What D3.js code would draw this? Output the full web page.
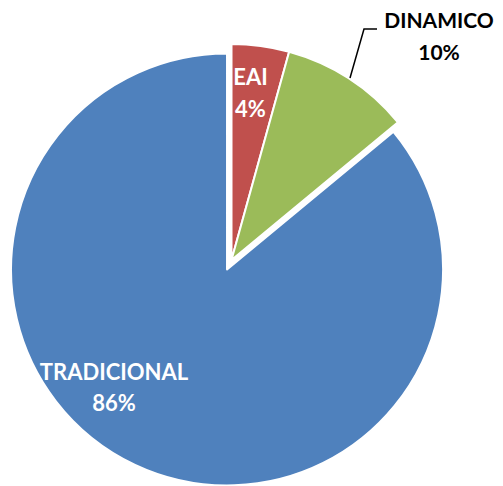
<!DOCTYPE html>
<html><head><meta charset="utf-8">
<script src="https://cdn.jsdelivr.net/npm/d3@7"></script>
<style>html,body{margin:0;padding:0;background:#fff}svg{display:block}</style>
</head><body>
<svg id="c" width="503" height="486"></svg>
<script>
const categories = ["EAI", "DINAMICO", "TRADICIONAL"];
const values = [4.3, 9.7, 86.0];
const colors = ["#C0504D", "#9BBB59", "#4F81BD"];

const svg = d3.select("#c");
const cx = 231.5, cy = 260, R = 216;
const explode = [0, 0, 10.5];

const pie = d3.pie().sort(null).value(d => d)(values);
const arc = d3.arc().innerRadius(0).outerRadius(R);
const total = d3.sum(values);
const pct = v => d3.format(".0%")(v / total);

const g = svg.append("g").attr("transform", `translate(${cx},${cy})`);
g.selectAll("path").data(pie).join("path")
  .attr("d", arc)
  .attr("fill", (d, i) => colors[i])
  .attr("stroke", "#fff").attr("stroke-width", 2).attr("stroke-linejoin", "round")
  .attr("transform", (d, i) => {
    const a = (d.startAngle + d.endAngle) / 2;
    return `translate(${explode[i] * Math.sin(a)},${-explode[i] * Math.cos(a)})`;
  });

const font = "Lato, 'Open Sans', sans-serif";
function label(x, y, lines, fill, size, gap) {
  const t = svg.append("text").attr("text-anchor", "middle")
    .attr("font-family", font).attr("font-weight", "bold")
    .attr("font-size", size).attr("fill", fill);
  lines.forEach((s, k) => t.append("tspan").attr("x", x).attr("y", y + k * gap).text(s));
}
label(250.5, 85, [categories[0], pct(values[0])], "#fff", 22, 31.5);
label(439, 28, [categories[1], pct(values[1])], "#000", 21, 32);
label(114, 379.5, [categories[2], pct(values[2])], "#fff", 22, 31.5);

// leader line for DINAMICO
const leader = d3.line()([[350, 78], [364, 29], [377, 29]]);
svg.append("path").attr("d", leader).attr("fill", "none")
  .attr("stroke", "#000").attr("stroke-width", 1.5);
</script>
</body></html>
